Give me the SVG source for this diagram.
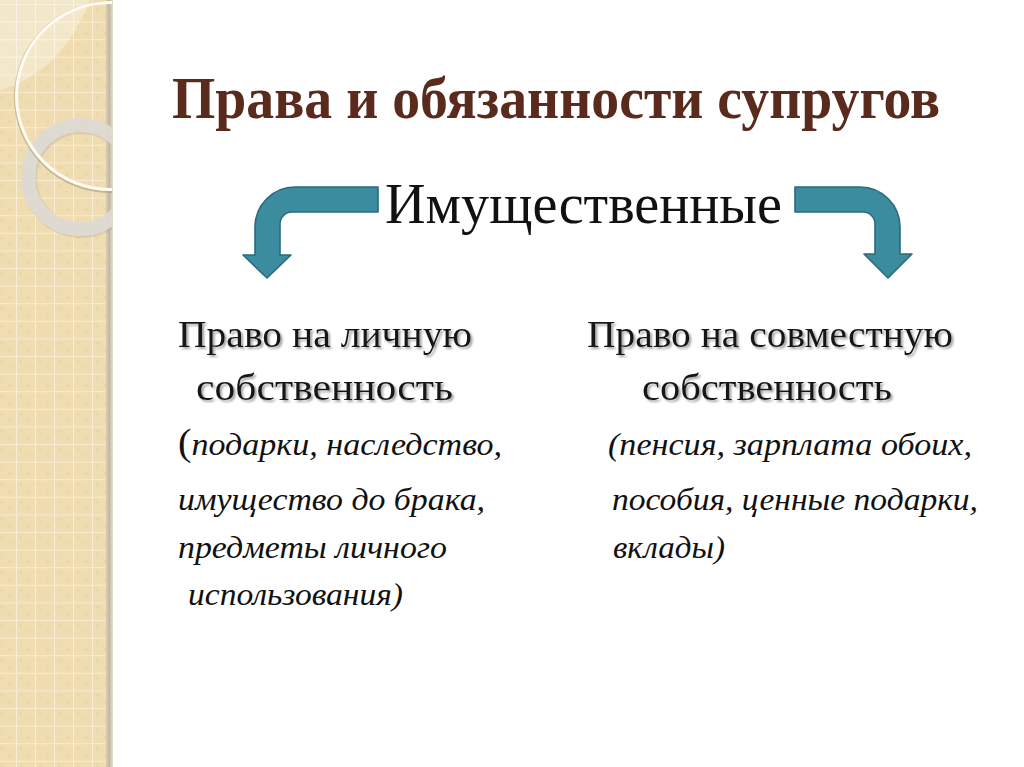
<svg xmlns="http://www.w3.org/2000/svg" width="1024" height="767" viewBox="0 0 1024 767">
  <defs>
    <pattern id="grid" x="16" y="4" width="19" height="17.6" patternUnits="userSpaceOnUse">
      <rect width="19" height="17.6" fill="#efdcb0"/>
      <circle cx="5" cy="5" r="1.2" fill="#e8d3a4"/>
      <circle cx="13" cy="12" r="1.2" fill="#e8d3a4"/>
      <path d="M0 0 V17.6 M0 0 H19" stroke="#fbf1dc" stroke-width="1.6" fill="none"/>
    </pattern>
    <clipPath id="stripClip"><rect x="0" y="0" width="112" height="767"/></clipPath>
    <filter id="shadow" x="-5%" y="-20%" width="110%" height="150%">
      <feDropShadow dx="2" dy="2" stdDeviation="1.3" flood-color="#7a7a7a" flood-opacity="0.7"/>
    </filter>
    <linearGradient id="band" x1="0" x2="1" y1="0" y2="0">
      <stop offset="0" stop-color="#d9ccb0"/>
      <stop offset="0.5" stop-color="#c3b8a4"/>
      <stop offset="1" stop-color="#e6e1d8"/>
    </linearGradient>
  </defs>
  <style>
    .title { font-family: "Liberation Serif", "Times New Roman", serif; font-weight: bold; font-size: 60px; fill: #5a2a1d; }
    .head { font-family: "Liberation Serif", "Times New Roman", serif; font-size: 56px; fill: #111; }
    .sub { font-family: "Liberation Serif", "Times New Roman", serif; font-size: 38px; fill: #151515; }
    .it { font-family: "Liberation Serif", "Times New Roman", serif; font-style: italic; font-size: 32px; fill: #111; }
    .arrow { fill: #3c8ca0; stroke: #2a6a7c; stroke-width: 1.6; stroke-linejoin: round; }
  </style>

  <!-- background -->
  <rect x="0" y="0" width="1024" height="767" fill="#ffffff"/>
  <g id="strip">
    <rect x="0" y="0" width="107" height="767" fill="url(#grid)"/>
    <rect x="106" y="0" width="7" height="767" fill="url(#band)"/>
    <g clip-path="url(#stripClip)">
      <path d="M0 0 L0 90 Q62 72 90 0 Z" fill="#ffffff" opacity="0.35"/>
      <circle cx="80" cy="177" r="52" fill="none" stroke="#b9b2a5" stroke-width="15" opacity="0.4" transform="translate(1.5 1.5)"/>
      <circle cx="80" cy="177" r="52" fill="none" stroke="#dfdcd5" stroke-width="14" opacity="0.9"/>
      <circle cx="110" cy="97" r="95" fill="none" stroke="#a89c84" stroke-width="2" opacity="0.6"/>
      <circle cx="110" cy="96" r="93.5" fill="none" stroke="#fffbf0" stroke-width="3"/>
    </g>
  </g>

  <g id="title">
    <text class="title" x="172" y="118" textLength="768" lengthAdjust="spacingAndGlyphs">Права и обязанности супругов</text>
  </g>

  <g id="node-imush">
    <text class="head" x="385" y="223" textLength="397" lengthAdjust="spacingAndGlyphs">Имущественные</text>
  </g>

  <g id="connectors">
    <path class="arrow" d="M378 187 L295 187 A40 40 0 0 0 255 227 L255 255 L243 255 L267 278 L291 255 L280 255 L280 224 A12 12 0 0 1 292 212 L378 212 Z"/>
    <path class="arrow" d="M795 187 L860 187 A40 40 0 0 1 900 227 L900 254 L912 254 L888 278 L864 254 L875 254 L875 224 A12 12 0 0 0 863 212 L795 212 Z"/>
  </g>

  <g id="node-personal">
    <g filter="url(#shadow)">
      <text class="sub" x="178" y="347" textLength="294" lengthAdjust="spacingAndGlyphs">Право на личную</text>
      <text class="sub" x="196" y="400" textLength="257" lengthAdjust="spacingAndGlyphs">собственность</text>
    </g>
    <text class="it" x="178" y="455" textLength="324" lengthAdjust="spacingAndGlyphs"><tspan font-style="normal" font-size="38">(</tspan>подарки, наследство,</text>
    <text class="it" x="178" y="510" textLength="307" lengthAdjust="spacingAndGlyphs">имущество до брака,</text>
    <text class="it" x="178" y="558" textLength="269" lengthAdjust="spacingAndGlyphs">предметы личного</text>
    <text class="it" x="188" y="605" textLength="215" lengthAdjust="spacingAndGlyphs">использования)</text>
  </g>

  <g id="node-joint">
    <g filter="url(#shadow)">
      <text class="sub" x="587" y="347" textLength="366" lengthAdjust="spacingAndGlyphs">Право на совместную</text>
      <text class="sub" x="642" y="400" textLength="250" lengthAdjust="spacingAndGlyphs">собственность</text>
    </g>
    <text class="it" x="608" y="455" textLength="364" lengthAdjust="spacingAndGlyphs">(пенсия, зарплата обоих,</text>
    <text class="it" x="612" y="510" textLength="366" lengthAdjust="spacingAndGlyphs">пособия, ценные подарки,</text>
    <text class="it" x="613" y="558" textLength="112" lengthAdjust="spacingAndGlyphs">вклады)</text>
  </g>
</svg>
